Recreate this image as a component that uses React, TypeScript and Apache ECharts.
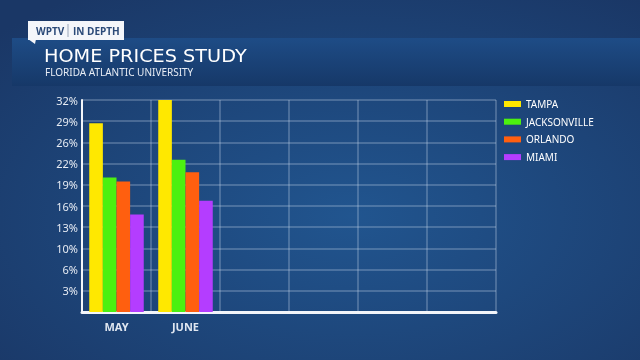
import React, { useEffect, useRef } from "react";
import * as echarts from "echarts";

const categories = ["MAY", "JUNE", "", "", "", ""];
const tampa = [28.5, 32];
const jacksonville = [20.3, 23.0];
const orlando = [19.7, 21.1];
const miami = [14.7, 16.8];
const seriesNames = ["TAMPA", "JACKSONVILLE", "ORLANDO", "MIAMI"];
const seriesColors = ["#ffe800", "#4cf010", "#ff5f0f", "#b43dff"];

export default function App() {
  const ref = useRef<HTMLDivElement>(null);
  useEffect(() => {
    if (!ref.current) return;
    const chart = echarts.init(ref.current, null, { renderer: "svg" });
    const values = [tampa, jacksonville, orlando, miami];
    chart.setOption({
      animation: false,
      backgroundColor: {
        type: "radial",
        x: 0.55,
        y: 0.6,
        r: 0.75,
        colorStops: [
          { offset: 0, color: "#21558f" },
          { offset: 1, color: "#1a3766" },
        ],
      },
      graphic: [
        {
          type: "rect",
          shape: { x: 12, y: 38, width: 628, height: 48 },
          style: {
            fill: {
              type: "linear",
              x: 0,
              y: 0,
              x2: 0,
              y2: 1,
              colorStops: [
                { offset: 0, color: "#1e4c86" },
                { offset: 1, color: "#163868" },
              ],
            },
          },
        },
        {
          type: "rect",
          shape: { x: 28, y: 21, width: 96, height: 19 },
          style: { fill: "#f4f6fa" },
        },
        {
          type: "polygon",
          shape: { points: [[28, 39], [36, 39], [35, 44]] },
          style: { fill: "#f4f6fa" },
        },
        {
          type: "line",
          shape: { x1: 68, y1: 24, x2: 68, y2: 37 },
          style: { stroke: "#9aa6b8", lineWidth: 1 },
        },
        {
          type: "text",
          x: 36,
          y: 31,
          style: {
            text: "WPTV",
            fill: "#2b4a78",
            font: "bold 10px 'Open Sans', sans-serif",
            verticalAlign: "middle",
          },
        },
        {
          type: "text",
          x: 73,
          y: 31,
          style: {
            text: "IN DEPTH",
            fill: "#2b4a78",
            font: "bold 10px 'Open Sans', sans-serif",
            verticalAlign: "middle",
          },
        },
        {
          type: "text",
          x: 44,
          y: 56,
          scaleX: 1.07,
          style: {
            text: "HOME PRICES STUDY",
            fill: "#ffffff",
            font: "18px 'DejaVu Sans', sans-serif",
            verticalAlign: "middle",
          },
        },
        {
          type: "text",
          x: 45,
          y: 72,
          style: {
            text: "FLORIDA ATLANTIC UNIVERSITY",
            fill: "#e8edf5",
            font: "10px 'Noto Sans', sans-serif",
            verticalAlign: "middle",
          },
        },
      ],
      legend: {
        orient: "vertical",
        left: 499,
        top: 94,
        itemWidth: 17,
        itemHeight: 6,
        itemGap: 7.7,
        icon: "rect",
        textStyle: { color: "#ffffff", fontSize: 10, fontFamily: "'Noto Sans', sans-serif" },
        data: seriesNames,
      },
      grid: { left: 82, right: 144, top: 100, bottom: 48 },
      xAxis: {
        type: "category",
        data: categories,
        axisLine: { show: true, lineStyle: { color: "#f2f5fa", width: 3 } },
        axisTick: { show: false },
        splitLine: { show: true, interval: 0, lineStyle: { color: "rgba(200,215,235,0.35)", width: 1.5 } },
        axisLabel: {
          color: "#dfe6f0",
          fontSize: 11,
          fontWeight: "bold",
          fontFamily: "'Noto Sans', sans-serif",
          margin: 9,
          interval: 0,
        },
      },
      yAxis: {
        type: "value",
        min: 0,
        max: 32,
        interval: 3.2,
        axisLine: { show: true, lineStyle: { color: "#f2f5fa", width: 2 } },
        axisTick: { show: false },
        splitLine: { show: true, lineStyle: { color: "rgba(200,215,235,0.35)", width: 1.5 } },
        axisLabel: {
          color: "#e6ebf3",
          fontSize: 11,
          fontFamily: "'Noto Sans', sans-serif",
          margin: 4,
          formatter: (v: number) => (v === 0 ? "" : Math.round(v) + "%"),
        },
      },
      series: seriesNames.map((name, i) => ({
        name,
        type: "bar",
        data: values[i],
        barGap: "0%",
        barCategoryGap: "21%",
        itemStyle: { color: seriesColors[i] },
      })),
    });
    return () => chart.dispose();
  }, []);
  return (
    <div
      ref={ref}
      style={{ position: "fixed", left: 0, top: 0, width: 640, height: 360 }}
    />
  );
}
